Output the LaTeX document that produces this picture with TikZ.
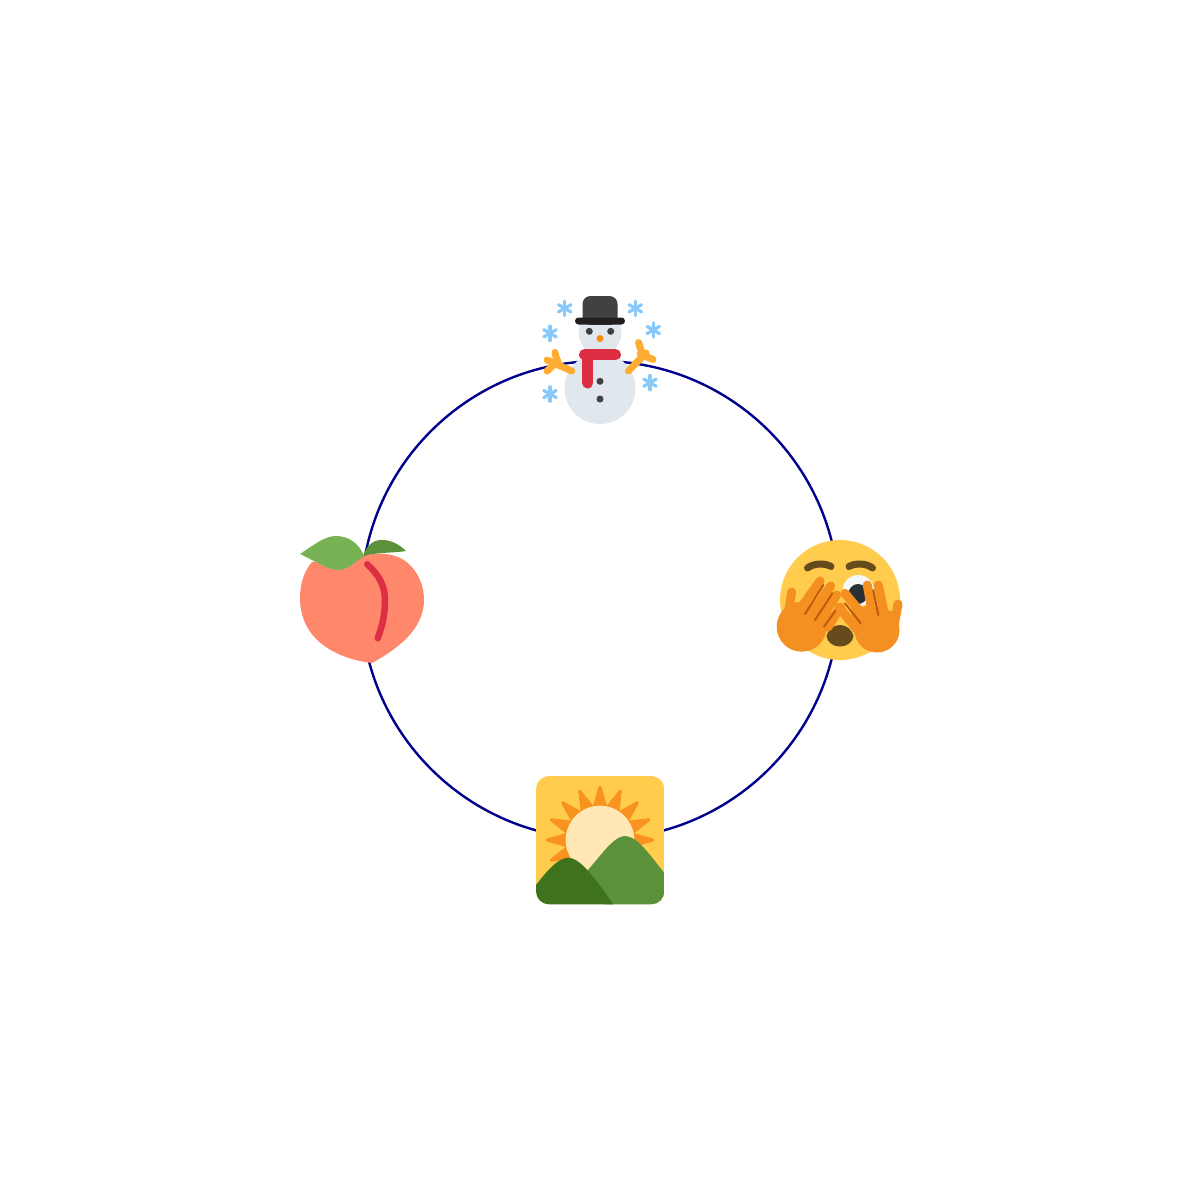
\documentclass[tikz,border=0pt]{standalone}
\usepackage{xcolor}
\definecolor{ringblue}{rgb}{0.0, 0.0, 0.55}
\definecolor{flakeblue}{HTML}{88C9F9}
\definecolor{snowgrey}{HTML}{E1E8ED}
\definecolor{hatgrey}{HTML}{414042}
\definecolor{brimblack}{HTML}{231F20}
\definecolor{scarfred}{HTML}{DD2E44}
\definecolor{armorange}{HTML}{FFAC33}
\definecolor{noseorange}{HTML}{F4900C}
\definecolor{sunorange}{HTML}{F7931E}
\definecolor{faceyellow}{HTML}{FFCC4D}
\definecolor{browbrown}{HTML}{664B1C}
\definecolor{eyewhite}{HTML}{F5F8FA}
\definecolor{pupilblack}{HTML}{292F33}
\definecolor{handorange}{HTML}{F49021}
\definecolor{handline}{HTML}{C1590C}
\definecolor{sunpale}{HTML}{FFE8B6}
\definecolor{hilllight}{HTML}{5C913B}
\definecolor{hilldark}{HTML}{3E721D}
\definecolor{peachpink}{HTML}{FF886C}
\definecolor{leaflight}{HTML}{77B255}
\usetikzlibrary{calc}

\begin{document}
\begin{tikzpicture}[x=0.01cm, y=-0.01cm,
  flake/.style={flakeblue, line width=0.032cm, line cap=round},
  arm/.style={armorange, line width=0.07cm, line cap=round},
  finger/.style={handorange, line width=0.09cm, line cap=round},
  crease/.style={handline, line width=0.02cm, line cap=round},
  brow/.style={browbrown, line width=0.07cm, line cap=round},
  ray/.style={sunorange, line width=0.03cm, line join=round}]

\useasboundingbox (0,0) rectangle (1200,1200);

\draw[ringblue, line width=0.024cm] (600,600) circle (239);

% snowman
\fill[snowgrey] (600,388.5) circle (35.5);
\fill[snowgrey] (600,333) circle (21.5);
\fill[hatgrey, rounded corners=0.08cm] (582.5,325) -- (582.5,296) -- (617.5,296) -- (617.5,325) -- cycle;
\fill[brimblack, rounded corners=0.035cm] (575,317.5) rectangle (625,324.5);
\fill[snowgrey] (585,324.5) rectangle (615,327);
\fill[hatgrey] (589.3,331.3) circle (3.5);
\fill[hatgrey] (610.7,331.3) circle (3.5);
\fill[noseorange] (600,338.5) circle (3.5);
\draw[scarfred, line width=0.11cm, line cap=round] (584.5,354.7) -- (615.5,354.7);
\draw[scarfred, line width=0.11cm, line cap=round] (587.7,355) -- (587.7,383);
\fill[hatgrey] (600,381.3) circle (3.5);
\fill[hatgrey] (600,399) circle (3.5);
\draw[arm] (571.7,371) -- (547,360);
\draw[arm] (558,365) -- (555,352.5);
\draw[arm] (558,361) -- (547,371);
\draw[arm] (628.3,371) -- (646,353);
\draw[arm] (638.5,342.5) -- (643,356);
\draw[arm] (653,359.5) -- (640,354);
\foreach \cx/\cy in {564.7/308.3, 635.3/308.3, 550/333.3, 653.3/330, 550/394, 650/382.7}
  \foreach \a in {30,90,150}
    \draw[flake] ($(\cx,\cy)+(\a:7.2)$) -- ($(\cx,\cy)+(\a+180:7.2)$);

% face
\fill[faceyellow] (840,600) circle (60);
\draw[brow] (807.5,568) .. controls (813,563.5) and (824,562.5) .. (831,566.5);
\draw[brow] (849,566.5) .. controls (856,562.5) and (867,563.5) .. (872.5,568);
\fill[eyewhite] (858.3,590.7) circle (15.7);
\fill[pupilblack] (858,594) ellipse (9.5 and 10);
\fill[browbrown] (826.5,636) .. controls (828,630) and (833,625) .. (840,625) .. controls (847,625) and (852,630) .. (853.5,636) .. controls (853,642) and (847,646.5) .. (840,646.5) .. controls (833,646.5) and (827,642) .. (826.5,636);
% left hand
\fill[handorange] (801.7,626.7) circle (25);
\fill[handorange] (784,615) -- (805,600) -- (838,615) -- (826,632) -- (815,648) -- (790,640) -- cycle;
\draw[finger] (791.7,592) -- (788,615);
\draw[finger] (820,581) -- (803,605);
\draw[finger] (830.7,586) -- (812,613);
\draw[finger] (836.7,595) -- (820,620);
\draw[finger] (840.5,607) -- (828,627);
\draw[crease] (823.3,585) -- (805,614);
\draw[crease] (832.3,593.3) -- (815,620);
\draw[crease] (838.3,606.7) -- (824,626.7);
% right hand
\fill[handorange] (877,630) circle (22.5);
\fill[handorange] (850,610) -- (870,605) -- (895,612) -- (898,636) -- (875,650) -- (858,637) -- cycle;
\draw[finger] (898,604) -- (893,632);
\draw[finger] (878.3,585) -- (885,617);
\draw[finger] (867.3,585) -- (873,617);
\draw[finger] (845,593.3) -- (867,620);
\draw[finger] (839,607.3) -- (860,633);
\draw[crease] (873.3,590) -- (878.3,615);
\draw[crease] (845,603.3) -- (860.7,623.3);

% sunrise
\begin{scope}
\clip[rounded corners=0.13cm] (536,776) rectangle (664.3,904.3);
\fill[faceyellow] (536,776) rectangle (664.3,904.3);
\foreach \a in {0,22.5,...,337.5}
  \filldraw[ray] ($(600,840)+(\a+11:32)$) -- ($(600,840)+(\a:52.8)$) -- ($(600,840)+(\a-11:32)$) -- cycle;
\fill[sunpale] (600,840) circle (34.3);
\fill[hilllight] (575,885) -- (588,870) .. controls (605,850) and (615,836) .. (625,836) .. controls (637,836) and (650,855) .. (664.3,873) -- (664.3,904.3) -- (605,904.3) -- cycle;
\fill[hilldark] (536,885) .. controls (546,872) and (558,857.7) .. (568.3,857.7) .. controls (580,857.7) and (595,878) .. (613.3,904.3) -- (536,904.3) -- cycle;
\end{scope}

% peach
\fill[peachpink] (363,556) .. controls (378,552) and (398,552) .. (411,566) .. controls (420,576) and (424,588) .. (424,600) .. controls (424,625) and (405,645) .. (372,663) .. controls (345,660) and (300,645) .. (300,598) .. controls (300,582) and (305,570) .. (312,562) -- cycle;
\fill[hilllight] (363,556) .. controls (367,545) and (373,540) .. (382,540) .. controls (392,540) and (400,545) .. (406,551) .. controls (395,553) and (378,552) .. (363,556);
\fill[leaflight] (300,554) .. controls (315,544) and (325,536) .. (336,536) .. controls (350,536) and (360,545) .. (364,556) .. controls (355,562) and (348,570) .. (338,570) .. controls (328,570) and (315,561) .. (300,554);
\draw[scarfred, line width=0.065cm, line cap=round] (367.3,564.3) .. controls (378,574) and (385,585) .. (385,600) .. controls (385,615) and (382,627) .. (377.7,638.3);
\end{tikzpicture}
\end{document}
